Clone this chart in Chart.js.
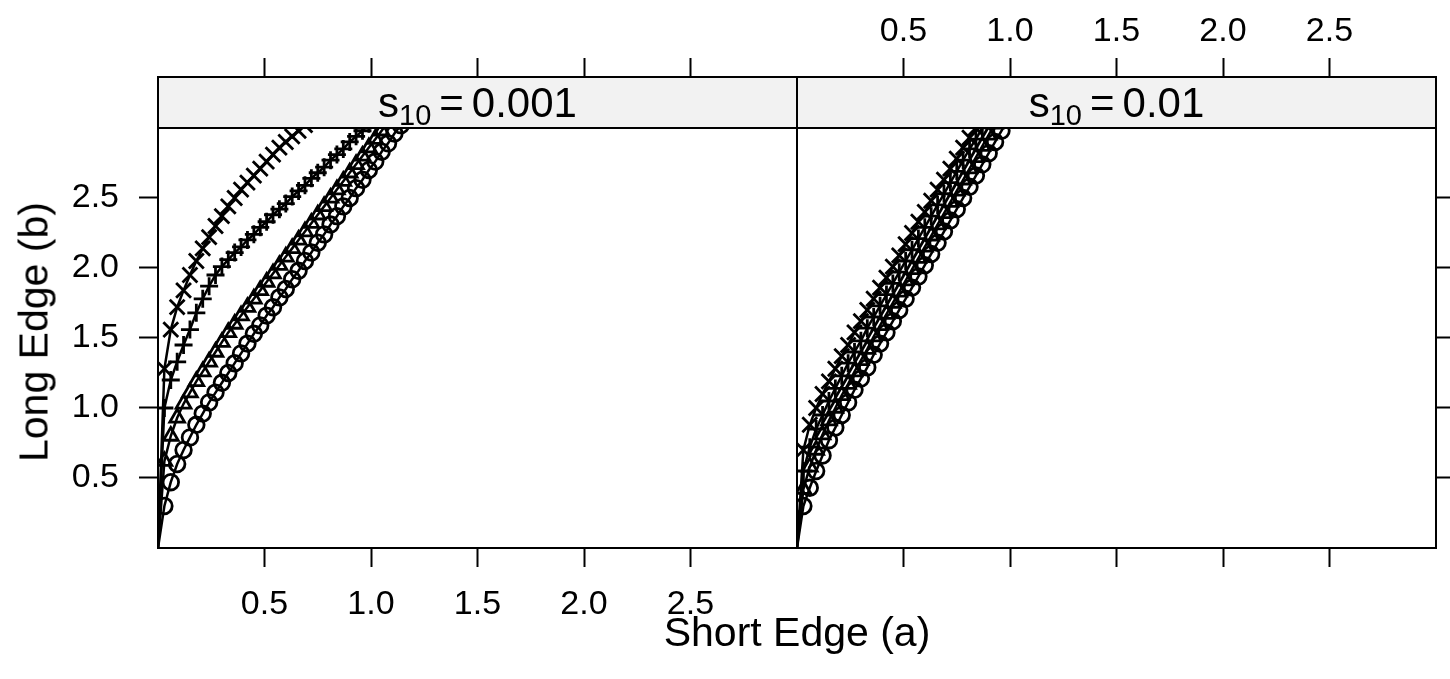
<!DOCTYPE html>
<html>
<head>
<meta charset="utf-8">
<script src="https://cdn.jsdelivr.net/npm/chart.js@4.4.1/dist/chart.umd.min.js"></script>
<style>
  body { margin: 0; background: #fff; width: 1450px; height: 679px; position: relative; overflow: hidden;
         font-family: "Liberation Sans", Arial, sans-serif; }
  canvas { position: absolute; top: 0; }
  #left { left: 0; }
  #right { left: 797px; }
  .title { position: absolute; font-size: 41px; color: #000; white-space: nowrap; line-height: 1; }
  #xTitle { left: 797px; top: 632px; transform: translate(-50%, -50%); }
  #yTitle { left: 34px; top: 332px; transform: translate(-50%, -50%) rotate(-90deg); }
</style>
</head>
<body>
<canvas id="left" width="800" height="679"></canvas>
<canvas id="right" width="653" height="679"></canvas>
<div class="title" id="xTitle">Short Edge (a)</div>
<div class="title" id="yTitle">Long Edge (b)</div>
<script>
// short edge values shared by every curve (index i -> a)
const aValues = [0, 0.03, 0.06, 0.09, 0.12, 0.15, 0.18, 0.21, 0.24, 0.27, 0.30, 0.33, 0.36, 0.39,
  0.42, 0.45, 0.48, 0.51, 0.54, 0.57, 0.60, 0.63, 0.66, 0.69, 0.72, 0.75, 0.78, 0.81, 0.84,
  0.87, 0.90, 0.93, 0.96, 0.99, 1.02, 1.05, 1.08, 1.11, 1.14];

// long edge, panel s10 = 0.001
const lowCircle = [0, 0.30, 0.47, 0.60, 0.70, 0.79, 0.88, 0.96, 1.04, 1.11, 1.18, 1.25, 1.32, 1.39,
  1.46, 1.53, 1.59, 1.66, 1.72, 1.79, 1.85, 1.92, 1.98, 2.05, 2.11, 2.18, 2.24, 2.31, 2.37,
  2.44, 2.50, 2.57, 2.63, 2.70, 2.76, 2.83, 2.89, 2.96, 3.02];
const lowTriangle = [0, 0.62, 0.80, 0.93, 1.03, 1.11, 1.19, 1.26, 1.33, 1.40, 1.47, 1.54, 1.60, 1.66,
  1.72, 1.78, 1.84, 1.90, 1.96, 2.02, 2.08, 2.14, 2.20, 2.26, 2.32, 2.38, 2.44, 2.50, 2.56,
  2.62, 2.68, 2.74, 2.80, 2.86, 2.92, 2.98, 3.04];
const lowPlus = [0, 1.00, 1.20, 1.33, 1.45, 1.56, 1.68, 1.78, 1.87, 1.95, 2.01, 2.06, 2.11, 2.15,
  2.20, 2.24, 2.29, 2.33, 2.38, 2.42, 2.46, 2.51, 2.55, 2.59, 2.64, 2.68, 2.72, 2.77, 2.81,
  2.85, 2.90, 2.94, 2.98, 3.03];
const lowCross = [0, 1.28, 1.56, 1.72, 1.84, 1.95, 2.05, 2.14, 2.22, 2.30, 2.37, 2.44, 2.50, 2.56,
  2.61, 2.66, 2.71, 2.76, 2.81, 2.86, 2.90, 2.94, 2.98, 3.02];

// long edge, panel s10 = 0.01
const highCircle = [0, 0.30, 0.43, 0.55, 0.66, 0.77, 0.86, 0.95, 1.04, 1.13, 1.21, 1.29, 1.38, 1.46,
  1.54, 1.62, 1.70, 1.78, 1.86, 1.94, 2.02, 2.10, 2.18, 2.26, 2.34, 2.42, 2.50, 2.58, 2.66,
  2.74, 2.82, 2.90, 2.98, 3.06];
const highTriangle = [0, 0.42, 0.58, 0.70, 0.81, 0.91, 1.00, 1.09, 1.17, 1.26, 1.34, 1.42, 1.51, 1.59,
  1.67, 1.75, 1.83, 1.91, 1.99, 2.07, 2.15, 2.23, 2.31, 2.39, 2.47, 2.55, 2.63, 2.71, 2.79,
  2.87, 2.95, 3.03];
const highPlus = [0, 0.55, 0.72, 0.85, 0.95, 1.05, 1.14, 1.23, 1.32, 1.40, 1.48, 1.57, 1.65, 1.73,
  1.81, 1.89, 1.97, 2.05, 2.13, 2.21, 2.29, 2.37, 2.45, 2.53, 2.61, 2.69, 2.77, 2.85, 2.92,
  3.00, 3.08];
const highCross = [0, 0.70, 0.88, 1.00, 1.10, 1.19, 1.28, 1.37, 1.45, 1.54, 1.62, 1.70, 1.78, 1.86,
  1.93, 2.01, 2.09, 2.17, 2.25, 2.33, 2.40, 2.48, 2.56, 2.63, 2.71, 2.78, 2.86, 2.93, 3.00, 3.07];

const tickValues = [0.5, 1.0, 1.5, 2.0, 2.5];
const stripValues = ['0.001', '0.01'];

const FONT = '"Liberation Sans", Arial, sans-serif';
const PANEL_TOP = 3;          // b value at the strip's lower edge
const AXIS_TOP = 3.364;       // strip sits inside the plot area above b = 3
const marks = [
  { style: 'circle', r: 7.8 },
  { style: 'triangle', r: 8.5 },
  { style: 'cross', r: 9 },
  { style: 'crossRot', r: 10.5 }
];

const toPoints = (b) => b.map((v, i) => ({ x: aValues[i], y: v }));

function makeDatasets(curves) {
  return curves.map((b, k) => ({
    data: toPoints(b),
    showLine: true,
    borderColor: '#000',
    borderWidth: 2.5,
    tension: 0,
    pointStyle: marks[k].style,
    pointRadius: (ctx) => ctx.dataIndex === 0 ? 0 : marks[k].r,
    pointBorderColor: '#000',
    pointBackgroundColor: 'rgba(0,0,0,0)',
    pointBorderWidth: 2.8
  }));
}

const stripPlugin = {
  id: 'strip',
  afterDatasetsDraw(chart, args, opts) {
    const { ctx, chartArea: ca } = chart;
    const bottom = chart.scales.y.getPixelForValue(PANEL_TOP);
    ctx.save();
    ctx.fillStyle = '#f2f2f2';
    ctx.fillRect(ca.left, ca.top, ca.right - ca.left, bottom - ca.top);
    ctx.strokeStyle = '#000';
    ctx.lineWidth = 2;
    ctx.strokeRect(ca.left, ca.top, ca.right - ca.left, ca.bottom - ca.top);
    ctx.beginPath();
    ctx.moveTo(ca.left, bottom);
    ctx.lineTo(ca.right, bottom);
    ctx.stroke();

    // s_10 = value
    const big = `42px ${FONT}`, small = `29px ${FONT}`;
    const eq = '=', gap = 8;
    ctx.font = big;
    const wS = ctx.measureText('s').width, wEq = ctx.measureText(eq).width, wV = ctx.measureText(opts.value).width;
    ctx.font = small; const wSub = ctx.measureText('10').width;
    const total = wS + wSub + gap + wEq + gap + wV;
    let x = (ca.left + ca.right) / 2 - total / 2;
    const base = ca.top + 40;
    ctx.fillStyle = '#000';
    ctx.textBaseline = 'alphabetic';
    ctx.textAlign = 'left';
    ctx.font = big; ctx.fillText('s', x, base); x += wS;
    ctx.font = small; ctx.fillText('10', x, base + 8); x += wSub + gap;
    ctx.font = big; ctx.fillText(eq, x, base); x += wEq + gap;
    ctx.fillText(opts.value, x, base);
    ctx.restore();
  }
};

const setTicks = (scale) => { scale.ticks = tickValues.map(v => ({ value: v })); };
const tickFont = { family: FONT, size: 34 };
const tickGrid = (len) => ({ drawOnChartArea: false, drawTicks: true, tickLength: len, tickColor: '#000', tickWidth: 2 });

function axisX(position, showLabels, pad) {
  return {
    type: 'linear', position, min: 0, max: 3,
    afterBuildTicks: setTicks,
    afterFit: (s) => { s.height = position === 'bottom' ? 131 : 77; },
    grid: tickGrid(19),
    border: { display: false },
    ticks: { display: showLabels, color: '#000', font: tickFont, padding: pad, maxRotation: 0,
             callback: (v) => v.toFixed(1) }
  };
}

function axisY(position, showLabels, width) {
  return {
    type: 'linear', position, min: 0, max: AXIS_TOP,
    afterBuildTicks: setTicks,
    afterFit: (s) => { s.width = width; },
    grid: tickGrid(19),
    border: { display: false },
    ticks: { display: showLabels, color: '#000', font: tickFont, padding: 20,
             callback: (v) => v.toFixed(1) }
  };
}

function drawPanel(canvasId, curves, stripValue, first) {
  const ctx = document.getElementById(canvasId).getContext('2d');
  return new Chart(ctx, {
    type: 'scatter',
    data: { datasets: makeDatasets(curves) },
    options: {
      responsive: false, animation: false, devicePixelRatio: 1,
      layout: { autoPadding: false, padding: first ? { left: 0, right: 3, top: 0, bottom: 0 } : 0 },
      plugins: { legend: { display: false }, tooltip: { enabled: false }, strip: { value: stripValue } },
      scales: {
        x: axisX('bottom', first, 17),
        x2: axisX('top', !first, 6),
        y: axisY(first ? 'left' : 'right', first, first ? 158 : 14)
      }
    },
    plugins: [stripPlugin]
  });
}

drawPanel('left', [lowCircle, lowTriangle, lowPlus, lowCross], stripValues[0], true);
drawPanel('right', [highCircle, highTriangle, highPlus, highCross], stripValues[1], false);
</script>
</body>
</html>
